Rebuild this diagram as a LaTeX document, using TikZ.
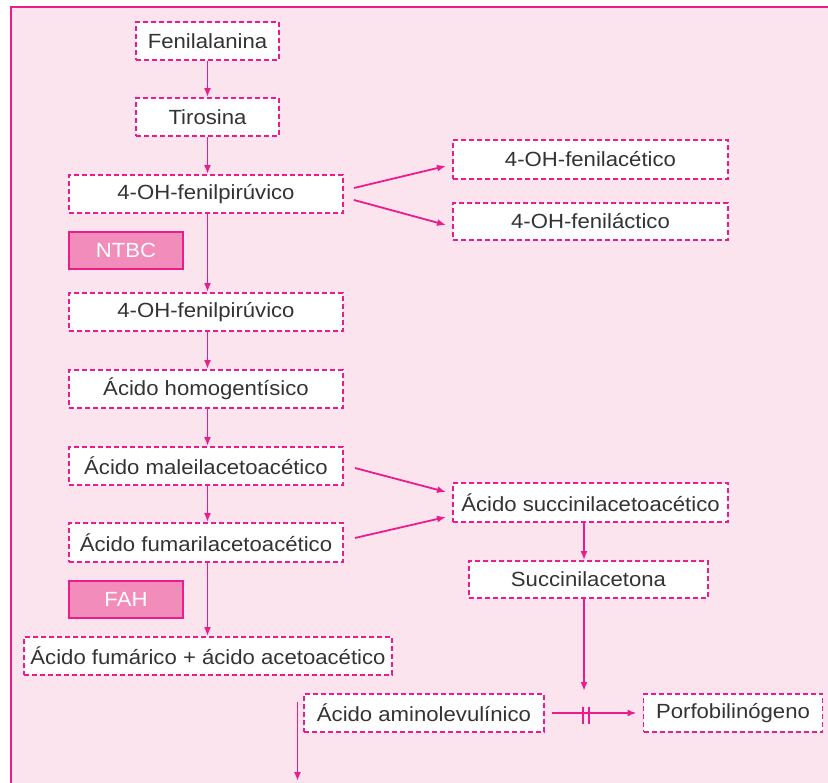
\documentclass[tikz,border=0pt]{standalone}
\usepackage{fontspec}
\setmainfont{Liberation Sans}[FakeStretch=1.08]
\usetikzlibrary{arrows.meta}
\definecolor{mag}{HTML}{EC1C8C}
\definecolor{bgpink}{HTML}{FCE4EF}
\definecolor{enzfill}{HTML}{F28CBA}
\definecolor{txt}{HTML}{333333}
\begin{document}
\begin{tikzpicture}[x=1pt,y=-1pt,
  box/.style={draw=mag, fill=white, dash pattern=on 5pt off 3pt, line width=1.9pt, inner sep=0pt, font=\fontsize{20.5}{24}\selectfont, text=txt},
  enz/.style={draw=mag, fill=enzfill, line width=1.9pt, inner sep=0pt, font=\fontsize{20.5}{24}\selectfont, text=white, minimum width=114pt, minimum height=37pt},
  arr/.style={draw=mag, line width=1.8pt, -{Latex[length=9pt,width=7pt]}},
  ln/.style={draw=mag, line width=1.8pt}
]
\useasboundingbox (0,0) rectangle (828,783);
\fill[bgpink] (11,7) rectangle (830,785);
\draw[mag, line width=2.2pt] (11,785) -- (11,7) -- (830,7);

\coordinate (col) at (207.5,0);
\coordinate (col2) at (584,0);

\node[box, minimum width=143pt, minimum height=38pt] (fen) at (207.5,41) {Fenilalanina};
\node[box, minimum width=143pt, minimum height=38pt] (tir) at (207.5,117) {Tirosina};
\node[box, minimum width=274pt, minimum height=38pt] (p1) at (206,194) {4-OH-fenilpirúvico};
\node[enz] (ntbc) at (126,250.5) {NTBC};
\node[box, minimum width=274pt, minimum height=38pt] (p2) at (206,312) {4-OH-fenilpirúvico};
\node[box, minimum width=274pt, minimum height=38pt] (hom) at (206,389) {Ácido homogentísico};
\node[box, minimum width=274pt, minimum height=38pt] (mal) at (206,466) {Ácido maleilacetoacético};
\node[box, minimum width=274pt, minimum height=39pt] (fum) at (206,542.5) {Ácido fumarilacetoacético};
\node[enz] (fah) at (126,599.5) {FAH};
\node[box, minimum width=368pt, minimum height=38pt] (fa) at (208,656) {Ácido fumárico + ácido acetoacético};

\node[box, minimum width=275pt, minimum height=39pt] (fac) at (590.5,159.5) {4-OH-fenilacético};
\node[box, minimum width=275pt, minimum height=37pt] (fl) at (590.5,221.5) {4-OH-feniláctico};
\node[box, minimum width=275pt, minimum height=39pt] (succ) at (590.5,502.5) {Ácido succinilacetoacético};
\node[box, minimum width=239pt, minimum height=37pt] (sa) at (588.5,579.5) {Succinilacetona};
\node[box, minimum width=240pt, minimum height=38pt] (ala) at (424,713) {Ácido aminolevulínico};
\node[box, minimum width=179pt, minimum height=38pt] (porf) at (733,713) {Porfobilinógeno};

% main column
\draw[arr] (fen.south -| col) -- (tir.north -| col);
\draw[arr] (tir.south -| col) -- (p1.north -| col);
\draw[arr] (p1.south -| col) -- (p2.north -| col);
\draw[arr] (p2.south -| col) -- (hom.north -| col);
\draw[arr] (hom.south -| col) -- (mal.north -| col);
\draw[arr] (mal.south -| col) -- (fum.north -| col);
\draw[arr] (fum.south -| col) -- (fa.north -| col);

% side branches
\draw[arr] ([xshift=10pt,yshift=6pt]p1.east) -- ([xshift=-6pt,yshift=-6.5pt]fac.west);
\draw[arr] ([xshift=10pt,yshift=-6pt]p1.east) -- ([xshift=-6pt,yshift=-3.5pt]fl.west);
\draw[arr] ([xshift=11pt,yshift=-2pt]mal.east) -- ([xshift=-6pt,yshift=10.5pt]succ.west);
\draw[arr] ([xshift=11pt,yshift=4.5pt]fum.east) -- ([xshift=-6pt,yshift=-14.5pt]succ.west);

% right column
\draw[arr] (succ.south -| col2) -- (sa.north -| col2);
\coordinate (blk) at (584,691);
\draw[arr] (sa.south -| col2) -- (blk);

% ALA -> PBG blocked
\draw[arr] ([xshift=7pt]ala.east) -- ([xshift=-6pt]porf.west);
\coordinate (b1a) at (583,707);
\coordinate (b1b) at (583,724);
\coordinate (b2a) at (589,707);
\coordinate (b2b) at (589,724);
\draw[ln] (b1a) -- (b1b);
\draw[ln] (b2a) -- (b2b);

% left downward arrow
\coordinate (dl1) at (297.5,702);
\coordinate (dl2) at (297.5,781);
\draw[arr] (dl1) -- (dl2);
\end{tikzpicture}
\end{document}
